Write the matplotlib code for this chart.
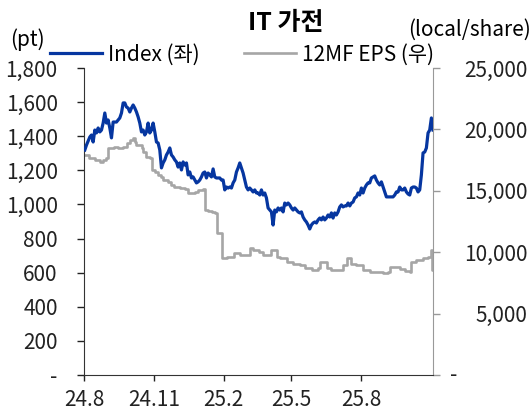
import matplotlib
matplotlib.use('Agg')
import matplotlib.pyplot as plt
import matplotlib.dates as mdates
from matplotlib.lines import Line2D
from matplotlib.ticker import FuncFormatter
import numpy as np
import pandas as pd

plt.rcParams['font.family'] = ['Noto Sans CJK KR', 'DejaVu Sans']

title = 'IT 가전'
left_unit = '(pt)'
right_unit = '(local/share)'
index_label = 'Index (좌)'
eps_label = '12MF EPS (우)'

# Index (left axis), roughly every 2 days from 2024-08-02 to 2025-11-04
index_start, index_end = '2024-08-02', '2025-11-04'
index_vals = [
    1319, 1348, 1372, 1395, 1407, 1366, 1436, 1419, 1448, 1425, 1436, 1477, 1536, 1477,
    1495, 1448, 1390, 1483, 1483, 1483, 1495, 1507, 1536, 1595, 1595, 1571, 1565, 1542,
    1565, 1583, 1565, 1542, 1513, 1477, 1425, 1436, 1407, 1425, 1477, 1419, 1436, 1477,
    1425, 1366, 1360, 1319, 1214, 1243, 1261, 1290, 1307, 1331, 1290, 1278, 1261, 1249,
    1219, 1243, 1202, 1249, 1231, 1243, 1173, 1190, 1155, 1161, 1143, 1126, 1132, 1143,
    1161, 1184, 1190, 1155, 1184, 1173, 1161, 1208, 1161, 1155, 1155, 1155, 1143, 1143,
    1085, 1102, 1096, 1102, 1096, 1126, 1143, 1190, 1214, 1243, 1214, 1184, 1143, 1102,
    1085, 1096, 1085, 1073, 1085, 1067, 1067, 1055, 1085, 1055, 1067, 1038, 979, 967,
    956, 879, 967, 956, 979, 967, 979, 956, 1008, 997, 1008, 997, 979, 967,
    979, 967, 956, 950, 956, 926, 909, 897, 879, 856, 879, 891, 897, 891,
    909, 920, 909, 926, 909, 920, 938, 926, 950, 920, 950, 938, 956, 985,
    997, 985, 991, 991, 1008, 991, 1008, 1014, 1038, 1044, 1067, 1055, 1096, 1067,
    1096, 1114, 1126, 1126, 1155, 1161, 1167, 1143, 1126, 1114, 1132, 1102, 1073, 1044,
    1044, 1044, 1044, 1044, 1055, 1073, 1073, 1102, 1085, 1085, 1096, 1073, 1061, 1055,
    1096, 1102, 1102, 1096, 1073, 1085, 1173, 1302, 1307, 1331, 1419, 1436, 1507, 1436,
]

# 12MF EPS (right axis), step changes
eps_dates = [
    '2024-08-02', '2024-08-08', '2024-08-15', '2024-08-22', '2024-08-26', '2024-08-30',
    '2024-09-02', '2024-09-09', '2024-09-15', '2024-09-21', '2024-09-26', '2024-09-30',
    '2024-10-05', '2024-10-07', '2024-10-09', '2024-10-16', '2024-10-18', '2024-10-22',
    '2024-10-27', '2024-10-29', '2024-11-02', '2024-11-06', '2024-11-11', '2024-11-13',
    '2024-11-19', '2024-11-24', '2024-11-28', '2024-12-05', '2024-12-12', '2024-12-16',
    '2024-12-25', '2024-12-29', '2025-01-05', '2025-01-07', '2025-01-12', '2025-01-16',
    '2025-01-21', '2025-01-23', '2025-01-30', '2025-02-05', '2025-02-14', '2025-02-23',
    '2025-03-08', '2025-03-12', '2025-03-19', '2025-03-25', '2025-04-05', '2025-04-12',
    '2025-04-16', '2025-04-25', '2025-05-04', '2025-05-13', '2025-05-19', '2025-05-28',
    '2025-06-06', '2025-06-08', '2025-06-17', '2025-06-23', '2025-07-08', '2025-07-13',
    '2025-07-19', '2025-07-26', '2025-08-04', '2025-08-13', '2025-08-22', '2025-08-30',
    '2025-09-06', '2025-09-08', '2025-09-21', '2025-09-28', '2025-10-04', '2025-10-06',
    '2025-10-13', '2025-10-22', '2025-10-29', '2025-11-01', '2025-11-02', '2025-11-03',
    '2025-11-04',
]
eps_vals = [
    17900, 17650, 17500, 17370, 17500, 17650,
    18450, 18590, 18460, 18590, 18870, 19130,
    19280, 19000, 18730, 18460, 18180, 17780,
    17650, 16700, 16550, 16290, 16150, 15880,
    15740, 15470, 15280, 15200, 15120, 14800,
    14930, 15070, 15120, 13440, 13380, 13300,
    13220, 11540, 9500, 9630, 9910, 9770,
    10320, 10180, 10040, 9770, 10180, 9630,
    9500, 9230, 9040, 8960, 8690, 8550,
    8690, 9230, 8690, 8550, 8960, 9500,
    9040, 8960, 8550, 8410, 8360, 8330,
    8410, 8820, 8610, 8490, 8410, 9230,
    9360, 9500, 9580, 10180, 9500, 8550,
    8550,
]

left_ticks = [0, 200, 400, 600, 800, 1000, 1200, 1400, 1600, 1800]
right_ticks = [0, 5000, 10000, 15000, 20000, 25000]
x_ticks = ['2024-08-01', '2024-11-01', '2025-02-01', '2025-05-01', '2025-08-01']
x_ticklabels = ['24.8', '24.11', '25.2', '25.5', '25.8']

blue = '#0636A0'
grey = '#A6A6A6'

index_dates = pd.date_range(index_start, index_end, periods=len(index_vals))
eps_dt = pd.to_datetime(eps_dates)

fig = plt.figure(figsize=(5.32, 4.12), dpi=100)
ax = fig.add_axes([0.158, 0.09, 0.656, 0.745])
ax2 = ax.twinx()

ax2.plot(eps_dt, eps_vals, color=grey, lw=1.9, drawstyle='steps-post', zorder=2)
ax.plot(index_dates, index_vals, color=blue, lw=2.3, zorder=3)
ax.set_zorder(ax2.get_zorder() + 1)
ax.patch.set_visible(False)

ax.set_xlim(pd.Timestamp('2024-08-01'), pd.Timestamp('2025-11-04'))
ax.set_ylim(0, 1800)
ax2.set_ylim(0, 25000)

ax.set_yticks(left_ticks)
ax.yaxis.set_major_formatter(FuncFormatter(lambda v, p: '-' if v == 0 else f'{v:,.0f}'))
ax2.set_yticks(right_ticks)
ax2.yaxis.set_major_formatter(FuncFormatter(lambda v, p: '' if v == 0 else f'{v:,.0f}'))
ax.set_xticks(pd.to_datetime(x_ticks))
ax.set_xticklabels(x_ticklabels)

fs = 15
ax.tick_params(axis='y', labelsize=fs, length=5, width=1, direction='out', pad=14, colors='#222222')
ax.tick_params(axis='x', labelsize=fs, length=4, width=1, direction='out', pad=6, colors='#222222')
ax2.tick_params(axis='y', labelsize=fs, length=5, width=1, direction='out', pad=63,
                color='#999999', labelcolor='#222222')
for lab in ax2.get_yticklabels():
    lab.set_horizontalalignment('right')
ax2.text(1.06, 0, '-', transform=ax2.get_yaxis_transform(), fontsize=fs,
         ha='center', va='center', color='#222222')

for a in (ax, ax2):
    a.spines['top'].set_visible(False)
ax.spines['left'].set_color('#333333')
ax.spines['bottom'].set_color('#333333')
ax.spines['right'].set_visible(False)
ax2.spines['left'].set_visible(False)
ax2.spines['bottom'].set_visible(False)
ax2.spines['right'].set_color('#999999')

fig.text(0.538, 0.943, title, fontsize=fs + 3, fontweight='bold', ha='center', va='center')
fig.text(0.019, 0.903, left_unit, fontsize=fs, ha='left', va='center')
fig.text(0.997, 0.927, right_unit, fontsize=fs, ha='right', va='center')

handles = [Line2D([], [], color=blue, lw=2.3), Line2D([], [], color=grey, lw=1.9)]
fig.legend(handles, [index_label, eps_label], loc='center left', bbox_to_anchor=(0.094, 0.868),
           ncol=2, frameon=False, fontsize=fs, handlelength=2.5, handletextpad=0.3,
           columnspacing=2.1, borderaxespad=0, borderpad=0)

fig.savefig('out.png', dpi=100)
